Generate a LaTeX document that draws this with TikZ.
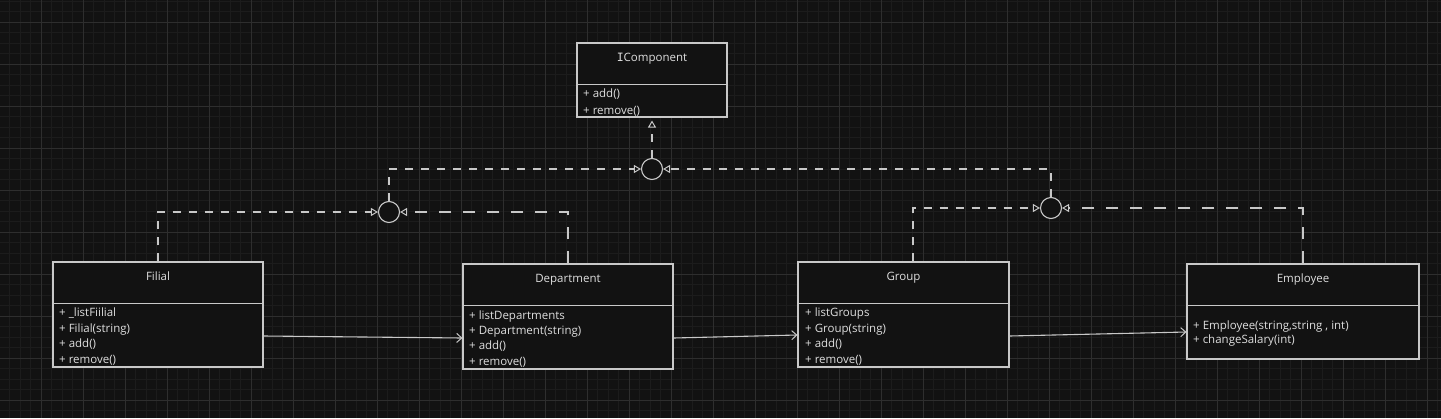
\documentclass[tikz,border=0pt]{standalone}
\usepackage{fontspec}
\setmainfont{Open Sans}
\newfontfamily\monof{DejaVu Sans Mono}
\usetikzlibrary{arrows.meta}
\definecolor{bgc}{RGB}{18,18,18}
\definecolor{minorc}{RGB}{28,28,28}
\definecolor{majorc}{RGB}{46,46,46}
\definecolor{linec}{RGB}{200,200,200}
\definecolor{txtc}{RGB}{222,222,222}
\definecolor{boxfill}{RGB}{18,18,18}
\tikzset{
  minorgrid/.style={draw=minorc, line width=1pt},
  majorgrid/.style={draw=majorc, line width=1pt},
  classbox/.style={draw=linec, fill=boxfill, line width=1.1pt, rectangle, inner sep=0pt},
  divline/.style={draw=linec, line width=1.1pt},
  ttl/.style={text=txtc, font=\fontsize{11.5}{13}\selectfont, inner sep=0pt, anchor=base},
  itm/.style={text=txtc, font=\fontsize{11.5}{13}\selectfont, inner sep=0pt, anchor=base west},
  lolli/.style={circle, draw=linec, fill=bgc, line width=1.1pt, minimum size=21pt, inner sep=0pt},
  dep/.style={draw=linec, line width=1.1pt, dash pattern=on 8pt off 8pt, -{Triangle[open, length=7pt, width=8pt, line width=1pt]}},
  depl/.style={draw=linec, line width=1.1pt, dash pattern=on 12pt off 12pt, -{Triangle[open, length=7pt, width=8pt, line width=1pt]}},
  assoc/.style={draw=linec, line width=1.1pt, -{Straight Barb[length=5pt, width=9pt, line width=1pt]}},
}
\begin{document}
\begin{tikzpicture}[x=1pt, y=1pt]
\useasboundingbox (0,0) rectangle (1441,-418);
\fill[bgc] (0,0) rectangle (1441,-418);
% grid
\foreach \i in {0,...,137} { \draw[minorgrid] ({9.5+10.5*\i},0) -- ({9.5+10.5*\i},-418); }
\foreach \j in {0,...,39} { \draw[minorgrid] (0,{-1-10.5*\j}) -- (1441,{-1-10.5*\j}); }
\foreach \i in {1,...,34} { \draw[majorgrid] ({-1+42*\i},0) -- ({-1+42*\i},-418); }
\foreach \j in {0,...,9} { \draw[majorgrid] (0,{-22-42*\j}) -- (1441,{-22-42*\j}); }

% classes
\node[classbox, minimum width=150pt, minimum height=74pt] (icomp) at (652,-80) {};
\draw[divline] ([yshift=-42pt]icomp.north west) -- ([yshift=-42pt]icomp.north east);
\node[ttl] (icompt) at (652,-61) {{\monof I}Component};
\node[itm] (icompa1) at (583,-97) {+ add()};
\node[itm] (icompa2) at (583,-114) {+ remove()};

\node[classbox, minimum width=210pt, minimum height=105pt] (filial) at (158,-314.5) {};
\draw[divline] ([yshift=-42pt]filial.north west) -- ([yshift=-42pt]filial.north east);
\node[ttl] (filialt) at (158,-280) {Filial};
\node[itm] (filiala1) at (59,-316) {+ \_listFiilial};
\node[itm] (filiala2) at (59,-332) {+ Filial(string)};
\node[itm] (filiala3) at (59,-347) {+ add()};
\node[itm] (filiala4) at (59,-363) {+ remove()};

\node[classbox, minimum width=210pt, minimum height=105pt] (dept) at (568,-316.5) {};
\draw[divline] ([yshift=-42pt]dept.north west) -- ([yshift=-42pt]dept.north east);
\node[ttl] (deptt) at (568,-282) {Department};
\node[itm] (depta1) at (469,-319) {+ listDepartments};
\node[itm] (depta2) at (469,-334) {+ Department(string)};
\node[itm] (depta3) at (469,-349) {+ add()};
\node[itm] (depta4) at (469,-365) {+ remove()};

\node[classbox, minimum width=211pt, minimum height=105pt] (group) at (903.5,-314.5) {};
\draw[divline] ([yshift=-42pt]group.north west) -- ([yshift=-42pt]group.north east);
\node[ttl] (groupt) at (903.5,-280) {Group};
\node[itm] (groupa1) at (805,-316) {+ listGroups};
\node[itm] (groupa2) at (805,-332) {+ Group(string)};
\node[itm] (groupa3) at (805,-347) {+ add()};
\node[itm] (groupa4) at (805,-363) {+ remove()};

\node[classbox, minimum width=232pt, minimum height=95pt] (emp) at (1303,-311.5) {};
\draw[divline] ([yshift=-42pt]emp.north west) -- ([yshift=-42pt]emp.north east);
\node[ttl] (empt) at (1303,-282) {Employee};
\node[itm] (empa1) at (1193,-329) {+ Employee(string,string , int)};
\node[itm] (empa2) at (1193,-343) {+ changeSalary(int)};

% interface lollipops
\node[lolli] (c0) at (652,-169) {};
\node[lolli] (c1) at (389,-212) {};
\node[lolli] (c2) at (1051,-208) {};

% realization / dependency connectors
\draw[dep, shorten >=3pt] (c0.north) -- (icomp.south);
\draw[dep] (c1.north) |- (c0.west);
\draw[dep] (c2.north) |- (c0.east);
\draw[dep] (filial.north) |- (c1.west);
\draw[depl] (dept.north) |- (c1.east);
\draw[dep] ([xshift=9.5pt]group.north) |- (c2.west);
\draw[depl] (emp.north) |- (c2.east);

% associations
\draw[assoc] ([yshift=-21.5pt]filial.east) -- ([yshift=-21.5pt]dept.west);
\draw[assoc] ([yshift=-21.5pt]dept.east) -- ([yshift=-20.5pt]group.west);
\draw[assoc] ([yshift=-21.5pt]group.east) -- ([yshift=-20.5pt]emp.west);
\end{tikzpicture}
\end{document}
